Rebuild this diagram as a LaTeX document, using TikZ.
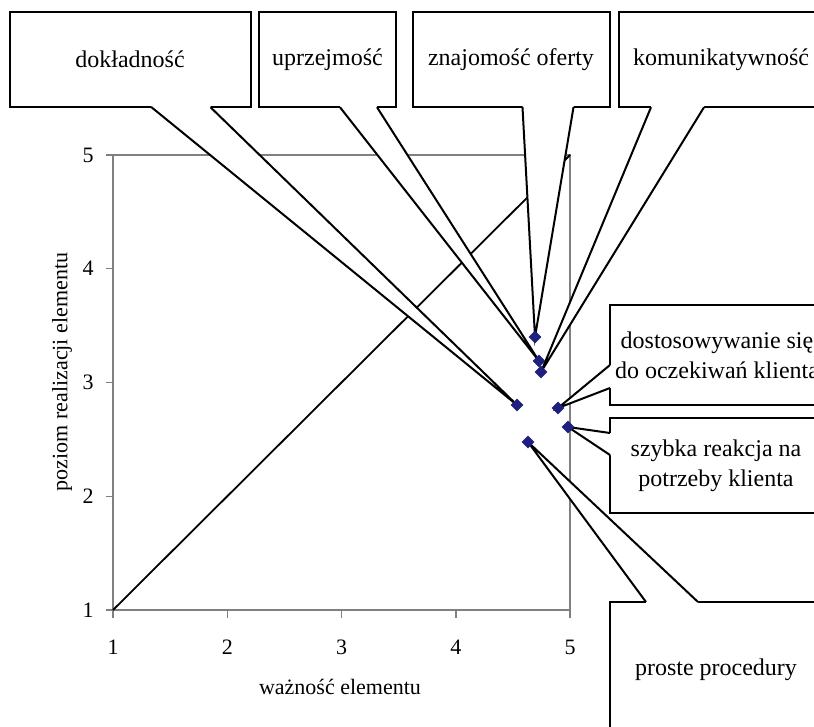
\documentclass[tikz,border=0pt]{standalone}
\usepackage{fontspec}
\setmainfont{Liberation Serif}
\usetikzlibrary{shapes.geometric,calc}
\definecolor{ptColor}{HTML}{1F1F7F}
\definecolor{axColor}{HTML}{808080}
\newcommand{\callwedge}[4]{%
  \fill[white] (#1) -- (#3) -- (#2) -- ($(#2)+(#4)$) -- ($(#1)+(#4)$) -- cycle;
  \draw[wedgeline] (#1) -- (#3) -- (#2);}

\begin{document}
\begin{tikzpicture}[x=0.5pt, y=-0.5pt,
callbox/.style={draw, fill=white, line width=1pt, outer sep=0, inner sep=2pt, align=center, font=\fontsize{12}{15}\selectfont},
wedgeline/.style={line width=1pt},
axis/.style={draw=axColor, line width=0.75pt},
diag/.style={line width=0.9pt},
ticklab/.style={font=\fontsize{11}{13}\selectfont},
marker/.style={diamond, fill=ptColor, inner sep=0, minimum width=6.5pt, minimum height=6.5pt}]
\useasboundingbox (0,0) rectangle (814,727);
\clip (0,0) rectangle (814,727);
\coordinate (dokl-xy) at (517,405);
\coordinate (uprz-xy) at (539,361);
\coordinate (znaj-xy) at (535,337);
\coordinate (komu-xy) at (541,372);
\coordinate (dost-xy) at (558,408);
\coordinate (szyb-xy) at (568,427);
\coordinate (pros-xy) at (528,442);
\draw[axis] (113,155) rectangle (570,610);
\foreach \i in {1,...,5} {
  \draw[axis] ({113+(\i-1)*114.25},610) -- ++(0,8);
  \node[ticklab] (xt\i) at ({113+(\i-1)*114.25},647) {\i};
  \draw[axis] (113,{610-(\i-1)*113.75}) -- ++(-7,0);
  \node[ticklab] (yt\i) at (88,{610-(\i-1)*113.75}) {\i};
}
\draw[diag] (113,610) -- (570,155);
\node[ticklab] (xlab) at (340,687) {ważność elementu};
\node[ticklab, rotate=90] (ylab) at (62,372) {poziom realizacji elementu};
\node[callbox, minimum width=120.5pt, minimum height=47.75pt] (dokl) at (130,59.5) {dokładność};
\node[callbox, minimum width=68.5pt, minimum height=47.75pt] (uprz) at (327.5,59.5) {uprzejmość};
\node[callbox, minimum width=98.5pt, minimum height=47.75pt] (znaj) at (511,59.5) {znajomość oferty};
\node[callbox, minimum width=102pt, minimum height=47.75pt] (komu) at (721,59.5) {komunikatywność};
\node[callbox, minimum width=107pt, minimum height=50pt] (dost) at (717,355) {dostosowywanie się\\do oczekiwań klienta};
\node[callbox, minimum width=106pt, minimum height=47.5pt] (szyb) at (716,465.5) {szybka reakcja na\\potrzeby klienta};
\node[callbox, minimum width=106pt, minimum height=68pt] (pros) at (716,670) {proste procedury};
\path (dokl.south west) ++(142,0) coordinate (dokl-a) ++(59,0) coordinate (dokl-b);
\path (uprz.south west) ++(81,0) coordinate (uprz-a) ++(37,0) coordinate (uprz-b);
\path (znaj.south west) ++(110,0) coordinate (znaj-a) ++(51,0) coordinate (znaj-b);
\path (komu.south west) ++(32,0) coordinate (komu-a) ++(53,0) coordinate (komu-b);
\path (dost.north west) ++(0,60) coordinate (dost-a) ++(0,23) coordinate (dost-b);
\path (szyb.north west) ++(0,15) coordinate (szyb-a) ++(0,22) coordinate (szyb-b);
\path (pros.north west) ++(36,0) coordinate (pros-a) ++(52,0) coordinate (pros-b);
\callwedge{dokl-a}{dokl-b}{dokl-xy}{0,-3}
\callwedge{uprz-a}{uprz-b}{uprz-xy}{0,-3}
\callwedge{znaj-a}{znaj-b}{znaj-xy}{0,-3}
\callwedge{komu-a}{komu-b}{komu-xy}{0,-3}
\callwedge{dost-a}{dost-b}{dost-xy}{3,0}
\callwedge{szyb-a}{szyb-b}{szyb-xy}{3,0}
\callwedge{pros-a}{pros-b}{pros-xy}{0,3}
\foreach \n in {dokl,uprz,znaj,komu,dost,szyb,pros}
  \node[marker] (\n-pt) at (\n-xy) {};
\end{tikzpicture}
\end{document}
